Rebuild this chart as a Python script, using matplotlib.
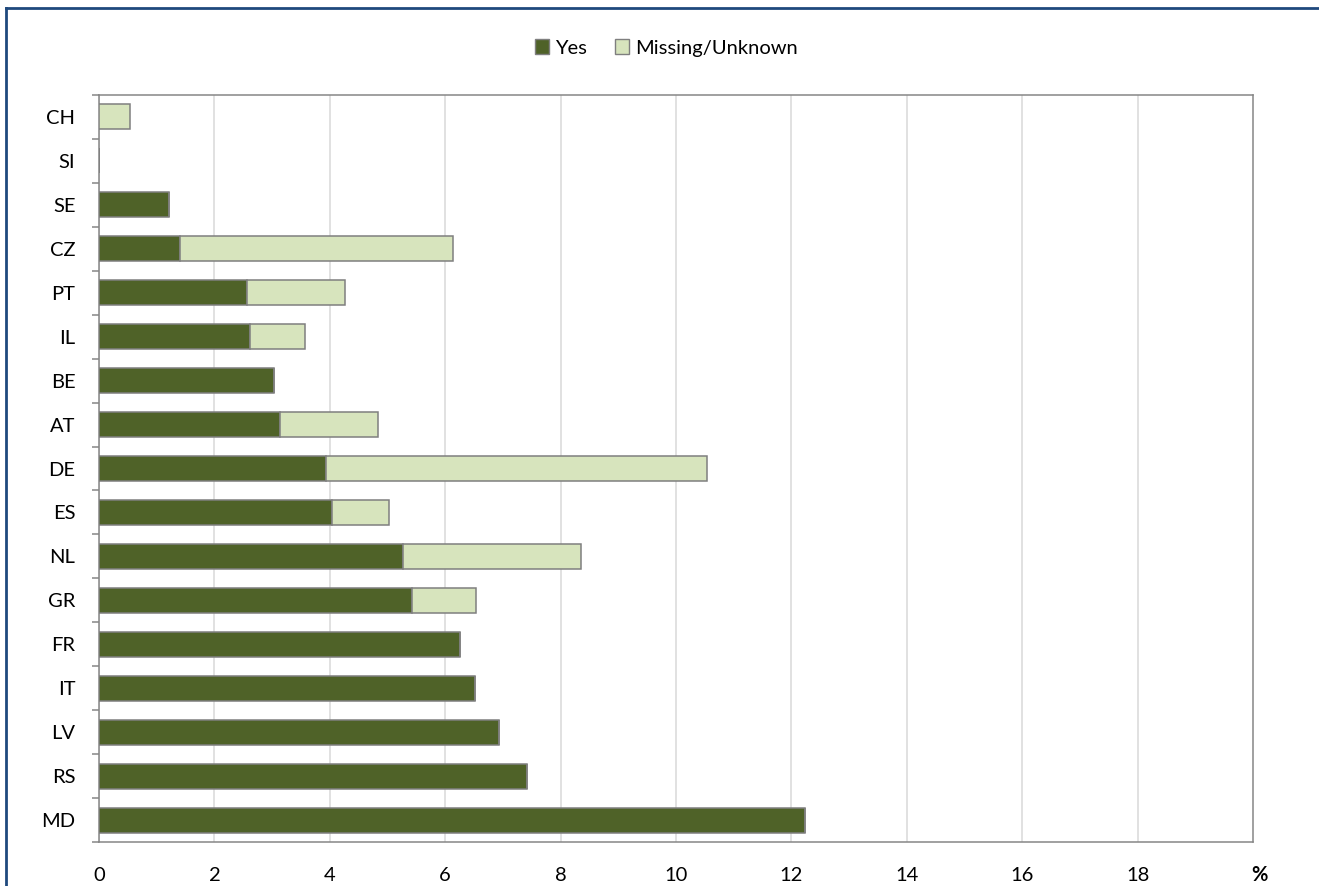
"""Stacked horizontal bars: share of Yes and Missing/Unknown by country."""

import matplotlib.pyplot as plt
from matplotlib.lines import Line2D
from matplotlib.patches import Patch
import numpy as np

plt.rcParams["font.family"] = ["Lato", "DejaVu Sans"]

countries = ["CH", "SI", "SE", "CZ", "PT", "IL", "BE", "AT", "DE",
             "ES", "NL", "GR", "FR", "IT", "LV", "RS", "MD"]
yes = [0.0, 0.0, 1.21, 1.40, 2.56, 2.62, 3.03, 3.13, 3.93,
       4.03, 5.27, 5.43, 6.26, 6.52, 6.93, 7.41, 12.23]
missing = [0.54, 0.0, 0.0, 4.73, 1.71, 0.95, 0.0, 1.70, 6.61,
           1.00, 3.08, 1.11, 0.0, 0.0, 0.0, 0.0, 0.0]
xticks = [0, 2, 4, 6, 8, 10, 12, 14, 16, 18]

DARK = "#4F6228"
LIGHT = "#D7E4BD"
EDGE = "#7F7F7F"
AXIS = "#868686"
GRID = "#D9D9D9"
FS = 14.5

W, H = 1319, 886
fig = plt.figure(figsize=(W / 100, H / 100), dpi=100)
ax = fig.add_axes([99 / W, 1 - 842 / H, (1253 - 99) / W, (842 - 95) / H])

y = np.arange(len(countries))
ax.barh(y, yes, height=0.57, color=DARK, edgecolor=EDGE, linewidth=1.1, zorder=3)
ax.barh(y, missing, left=yes, height=0.57, color=LIGHT, edgecolor=EDGE,
        linewidth=1.1, zorder=3)

ax.set_xlim(0, 20)
ax.set_ylim(len(countries) - 0.5, -0.5)
ax.set_xticks(xticks)
ax.set_xticklabels([str(t) for t in xticks], fontsize=FS)
ax.tick_params(axis="x", length=0, pad=18)
ax.set_yticks(y)
ax.set_yticklabels(countries, fontsize=FS)
ax.tick_params(axis="y", which="major", length=0, pad=17)
ax.set_yticks(np.arange(len(countries) + 1) - 0.5, minor=True)
ax.tick_params(axis="y", which="minor", length=5, width=1.1, color=AXIS)
ax.xaxis.grid(True, color=GRID, linewidth=1.1, zorder=0)
ax.set_axisbelow(True)
for spine in ax.spines.values():
    spine.set_color(AXIS)
    spine.set_linewidth(1.1)

fig.text(1259 / W, 1 - 875 / H, "%", fontsize=FS, fontweight="bold",
         ha="center", va="center")

handles = [Patch(facecolor=DARK, edgecolor=EDGE, label="Yes"),
           Patch(facecolor=LIGHT, edgecolor=EDGE, label="Missing/Unknown")]
fig.legend(handles=handles, loc="center", bbox_to_anchor=(0.505, 1 - 48 / H),
           ncol=2, frameon=False, fontsize=FS, handlelength=0.7,
           handleheight=0.7, handletextpad=0.3, columnspacing=1.4)

# outer chart frame: only the left and top edges fall inside the image
fig.add_artist(Line2D([6 / W, 6 / W], [0, 1 - 8 / H], color="#1F497D",
                      linewidth=2, transform=fig.transFigure))
fig.add_artist(Line2D([6 / W, 1], [1 - 8 / H, 1 - 8 / H], color="#1F497D",
                      linewidth=2, transform=fig.transFigure))

fig.savefig("out.png", dpi=100)
